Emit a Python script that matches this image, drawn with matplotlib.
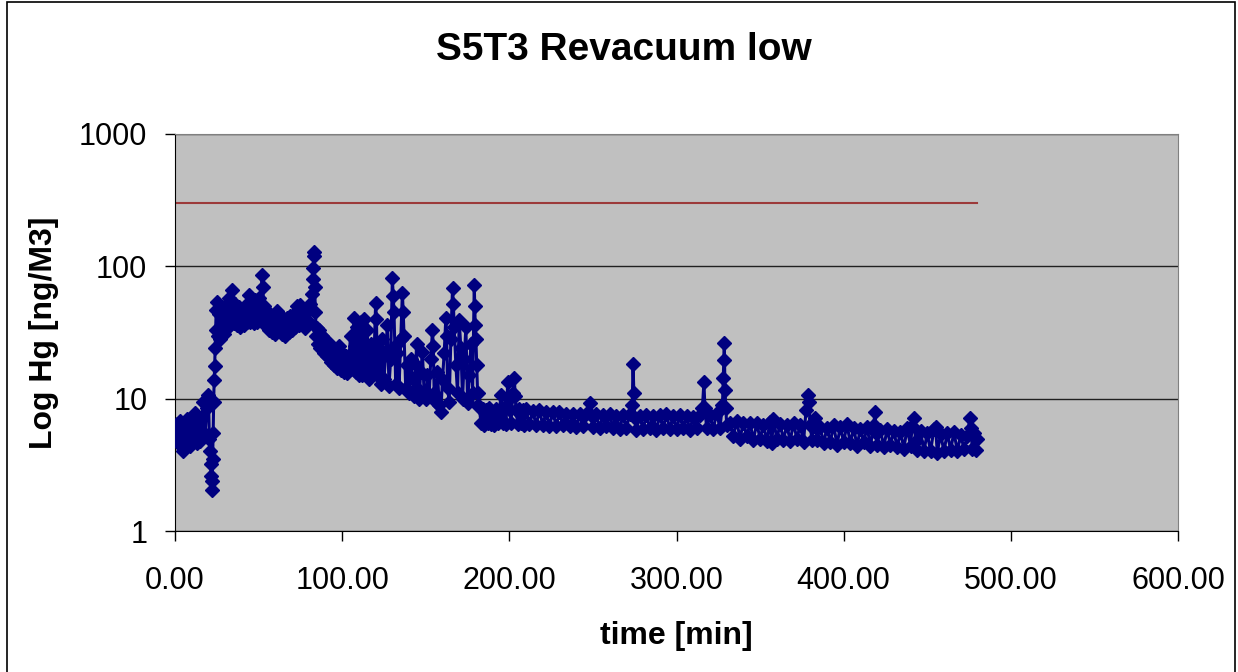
import numpy as np
import matplotlib
matplotlib.use("Agg")
import matplotlib.pyplot as plt
from matplotlib.patches import Rectangle

plt.rcParams['font.family'] = ['Liberation Sans', 'DejaVu Sans']

# Hg readings (time [min], ng/M3)
time_start = [0.3, 1, 2, 3, 4, 5, 6, 7, 8, 9, 10, 11, 12, 13, 14, 15, 16, 17, 18, 19,
              20, 20.5, 21, 21.3, 21.6, 21.9, 22.2, 22.5, 22.8, 23.1, 23.4, 23.7, 24, 24.3, 24.6, 25]
hg_start = [5.2, 6.4, 4.6, 6.8, 5.0, 4.0, 6.0, 7.0, 5.0, 4.4, 6.4, 5.3, 7.8, 4.6, 6.2, 4.8, 7.2, 9.4, 5.4, 8.5,
            10.7, 5.0, 4.0, 3.2, 2.6, 2.05, 2.4, 3.5, 5.5, 9.5, 13.8, 17.7, 24, 33, 47, 54]

time_rise = [25.5, 26, 27, 28, 29, 30, 31, 32, 33, 34, 35, 36, 37, 38, 39, 40, 41, 42, 43, 44,
             45, 46, 47, 48, 49, 50, 51, 52, 52.5, 53, 54, 55, 56, 57, 58, 59, 60, 61, 62, 63,
             64, 65, 66, 67, 68, 69, 70, 71, 72, 73, 74, 75, 76, 77, 78, 79, 80, 81, 82, 82.5,
             82.8, 83, 83.2, 83.5, 84, 84.5, 85]
hg_rise = [30, 44, 28, 47, 31, 50, 34, 58, 36, 66, 37, 52, 36, 49, 35, 47, 36, 50, 38, 61,
           38, 54, 37, 56, 38, 58, 40, 86, 70, 50, 36, 45, 33, 44, 32, 43, 31, 46, 33, 42,
           31, 40, 30, 41, 32, 42, 33, 44, 35, 50, 36, 51, 37, 48, 34, 45, 38, 52, 62, 80,
           97, 129, 120, 70, 45, 30, 34]

time_decay = [85.5, 86, 87, 88, 89, 90, 91, 92, 93, 94, 95, 96, 97, 98, 99, 100, 101, 102, 103, 104,
              105, 106, 107, 107.5, 108, 109, 110]
hg_decay = [26, 33, 24, 30, 22, 28, 21, 26, 19, 25, 18, 23, 17, 25, 16.5, 22, 16, 21, 15.5, 20,
            30, 17, 41, 25, 16, 35, 15]

time_noisy = [110.5, 111, 112, 113, 114, 115, 116, 117, 118, 119, 120, 120.5, 121, 122, 123, 124, 125, 126, 127, 128,
              129, 130, 130.5, 131, 131.5, 132, 133, 134, 135, 136, 136.5, 137, 138, 139, 140, 141, 142, 143, 144, 144.5,
              145, 146, 147, 148, 149, 150, 151, 152, 153, 154, 154.5, 155, 156, 157, 158, 159, 160, 161, 162, 162.5,
              163, 164, 165, 166, 166.5, 167, 168, 169, 170, 171, 172, 173, 174, 175, 176, 177, 178, 179, 179.3, 179.6,
              180, 180.5, 181, 181.5]
hg_noisy = [22, 38, 15, 40, 18, 33, 14, 26, 17, 20, 53, 40, 15, 24, 13, 28, 14, 22, 36, 12.5,
            20, 82, 60, 45, 25, 13, 22, 12, 28, 63, 45, 30, 12, 18, 11, 20, 14.3, 10.5, 18, 26,
            12, 10, 16, 22.5, 11, 10, 15, 10.5, 20, 33, 25, 11, 9.5, 16, 9, 7.9, 14, 22, 41, 30,
            12, 9.5, 28, 69, 52, 35, 18, 11, 39, 24, 10, 20, 35, 9.3, 15, 26, 11, 72, 50, 36,
            28, 18, 11, 9]

time_mid = [182, 183, 184, 185, 186, 187, 188, 189, 190, 191, 192, 193, 194, 195, 196, 197, 198, 199, 199.5, 200,
            201, 202, 203, 203.5, 204, 205, 206, 207, 208, 209, 210, 212, 214, 216, 218, 220, 222, 224, 226, 228,
            230, 232, 234, 236, 238, 240, 242, 244, 246, 248, 249, 250, 252, 254, 256, 258, 260, 262, 264, 266,
            268, 270, 272, 273.5, 274, 274.5, 275, 276, 278, 280, 282, 284, 286, 288, 290, 292, 294, 296, 298, 300,
            302, 304, 306, 308, 310, 312, 314, 315.5, 316.4, 317, 318, 320, 322, 324, 326, 327.5, 328, 328.3, 328.6, 329,
            329.5, 330]
hg_mid = [8.6, 6.6, 8.4, 6.3, 8.2, 6.5, 8.5, 6.4, 8.0, 6.3, 8.3, 6.6, 8.0, 10.7, 6.5, 8.5, 6.4, 13.4, 10, 8.4,
          6.5, 11, 14.3, 10.5, 8.2, 6.4, 8.3, 6.5, 8.2, 6.3, 8.3, 6.4, 8.1, 6.3, 8.2, 6.3, 7.9, 6.2, 8.0, 6.2,
          7.9, 6.3, 7.7, 6.2, 7.6, 6.1, 7.6, 6.2, 7.7, 9.3, 7.5, 6.1, 7.6, 6.0, 7.5, 6.2, 7.6, 6.0, 7.4, 5.9,
          7.5, 6.0, 7.6, 9.0, 18.3, 11, 7.2, 5.8, 7.4, 5.9, 7.5, 6.0, 7.4, 5.8, 7.5, 6.0, 7.6, 5.9, 7.4, 5.9,
          7.5, 6.0, 7.4, 5.8, 7.3, 6.0, 7.5, 8.5, 13.4, 8.5, 6.0, 7.5, 5.9, 7.8, 6.0, 9.0, 14.3, 19.6, 26.4, 11.6,
          8.5, 6.3]

time_tail = [332, 334, 336, 338, 340, 342, 344, 346, 348, 350, 352, 354, 356, 357, 358, 360, 362, 364, 366, 368,
             370, 372, 374, 376, 377.5, 378.6, 379.2, 380, 381, 382, 383, 384, 386, 388, 390, 392, 394, 396, 398, 400,
             402, 404, 406, 408, 410, 412, 414, 416, 418, 418.7, 419.5, 420, 422, 424, 426, 428, 430, 432, 434, 436,
             438, 440, 441, 442, 443, 444, 446, 448, 450, 452, 454, 455, 456, 458, 460, 462, 464, 466, 468, 470,
             472, 474, 475.5, 476, 477, 478, 479, 480]
hg_tail = [6.6, 5.2, 6.8, 5.0, 6.6, 5.2, 6.5, 4.9, 6.5, 5.0, 6.3, 4.8, 6.7, 4.6, 7.0, 5.0, 6.4, 4.9, 6.3, 4.8,
           6.5, 5.0, 6.3, 4.7, 8.2, 10.7, 9.5, 6.3, 4.9, 6.2, 7.2, 4.9, 6.1, 4.6, 6.0, 4.7, 6.3, 4.5, 6.1, 4.7,
           6.4, 4.6, 6.0, 4.4, 5.9, 4.7, 6.1, 4.4, 6.3, 8.0, 5.5, 4.5, 5.8, 4.3, 5.9, 4.5, 5.7, 4.3, 5.6, 4.2,
           6.0, 4.4, 6.2, 7.2, 4.8, 4.1, 5.7, 4.0, 5.5, 4.0, 5.9, 6.1, 3.9, 5.4, 4.0, 5.5, 4.1, 5.6, 4.0, 5.3,
           4.2, 5.2, 7.2, 6.0, 4.2, 5.5, 4.1, 5.0]

# limit line
limit_time = [0, 480]
limit_hg = [300, 300]

x_ticks = [0, 100, 200, 300, 400, 500, 600]
y_ticks = [1, 10, 100, 1000]

times = time_start + time_rise + time_decay + time_noisy + time_mid + time_tail
hg = hg_start + hg_rise + hg_decay + hg_noisy + hg_mid + hg_tail

fig = plt.figure(figsize=(12.38, 6.72), dpi=100)
ax = fig.add_axes([0.1414, 0.2098, 0.8101, 0.5908])
ax.set_facecolor('#C0C0C0')

ax.plot(times, hg, color='#000080', linewidth=2.2, marker='D', markersize=7.5,
        markerfacecolor='#000080', markeredgecolor='#000080', zorder=3)
ax.plot(limit_time, limit_hg, color='#9C3A3A', linewidth=1.5, zorder=2)

ax.set_yscale('log')
ax.set_xlim(0, 600)
ax.set_ylim(1, 1000)
ax.set_xticks(x_ticks)
ax.set_xticklabels(['%.2f' % t for t in x_ticks])
ax.set_yticks(y_ticks)
ax.set_yticklabels([str(v) for v in y_ticks])
ax.yaxis.set_minor_locator(matplotlib.ticker.NullLocator())

ax.grid(axis='y', which='major', color='#202020', linewidth=1.0)
ax.tick_params(axis='both', direction='out', length=7, width=1, labelsize=22, color='black')
ax.tick_params(axis='x', pad=18)
ax.tick_params(axis='y', pad=13)

ax.spines['left'].set_color('black')
ax.spines['bottom'].set_color('black')
ax.spines['top'].set_color('#808080')
ax.spines['right'].set_color('#808080')

ax.set_xlabel('time [min]', fontsize=23, fontweight='bold', labelpad=18)
ax.set_ylabel('Log Hg [ng/M3]', fontsize=23, fontweight='bold', labelpad=14)
fig.text(0.504, 0.925, 'S5T3 Revacuum low', ha='center', va='center',
         fontsize=28, fontweight='bold')

# chart border
fig.patches.append(Rectangle((7 / 1238, -0.01), 1228 / 1238, 1.007, transform=fig.transFigure,
                             fill=False, edgecolor='black', linewidth=1.2))

fig.savefig('out.png', dpi=100)
